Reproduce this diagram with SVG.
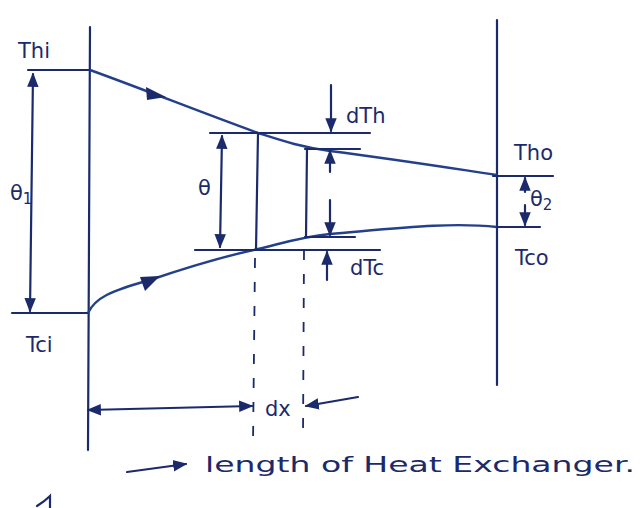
<svg xmlns="http://www.w3.org/2000/svg" width="643" height="508" viewBox="0 0 643 508">
<defs>
<marker id="ah" viewBox="0 0 10 10" refX="9" refY="5" markerWidth="6.5" markerHeight="6.5" orient="auto-start-reverse" markerUnits="strokeWidth">
<path d="M0,1 L10,5 L0,9 z" fill="#1b2a6b"/>
</marker>
<style>
.ln{stroke:#1b2a6b;stroke-width:2.2;fill:none;stroke-linecap:round}
.cv{stroke:#24408a;stroke-width:2.4;fill:none}
.ds{stroke:#1b2a6b;stroke-width:1.8;fill:none;stroke-dasharray:10 14}
.tx{font-family:"DejaVu Sans",sans-serif;fill:#1b2a6b;font-size:21px}
.fl{fill:#1b2a6b}
</style>
</defs>
<rect width="643" height="508" fill="#fff"/>
<g id="connectors">
<line class="ln" x1="90" y1="27" x2="88" y2="450"/>
<line class="ln" x1="497" y1="20" x2="497" y2="385"/>
<line class="ln" x1="28" y1="70" x2="90" y2="70"/>
<line class="ln" x1="12" y1="313" x2="88" y2="313"/>
<line class="ln" x1="33" y1="74" x2="30" y2="311" marker-start="url(#ah)" marker-end="url(#ah)"/>
<path class="cv" d="M90,70 C140,88 200,112 258,133 C280,140 300,147 330,151 C400,160 450,168 497,175"/>
<path class="fl" d="M146,87 L166,97 L147,100 z"/>
<path class="cv" d="M88,313 C95,298 110,291 150,280 C200,263 230,255 258,249 C280,244 300,237 330,234 C400,228 450,222 497,227"/>
<path class="fl" d="M140,277 L160,276 L145,291 z"/>
<line class="ln" x1="210" y1="133" x2="370" y2="133"/>
<line class="ln" x1="305" y1="149" x2="360" y2="149"/>
<line class="ln" x1="305" y1="237" x2="355" y2="237"/>
<line class="ln" x1="195" y1="250" x2="380" y2="250"/>
<line class="ln" x1="258" y1="133" x2="256" y2="250"/>
<line class="ln" x1="307" y1="149" x2="306" y2="237"/>
<line class="ds" x1="255" y1="258" x2="253" y2="445"/>
<line class="ds" x1="304" y1="250" x2="303" y2="440"/>
<line class="ln" x1="222" y1="136" x2="220" y2="247" marker-start="url(#ah)" marker-end="url(#ah)"/>
<line class="ln" x1="331" y1="85" x2="331" y2="131" marker-end="url(#ah)"/>
<line class="ln" x1="330" y1="172" x2="330" y2="151" marker-end="url(#ah)"/>
<line class="ln" x1="330" y1="200" x2="330" y2="235" marker-end="url(#ah)"/>
<line class="ln" x1="327" y1="280" x2="327" y2="252" marker-end="url(#ah)"/>
<line class="ln" x1="493" y1="176" x2="553" y2="176"/>
<line class="ln" x1="497" y1="227" x2="540" y2="227"/>
<line class="ln" x1="525" y1="192" x2="525" y2="178" marker-end="url(#ah)"/>
<line class="ln" x1="525" y1="205" x2="525" y2="225" marker-end="url(#ah)"/>
<line class="ln" x1="88" y1="410" x2="252" y2="406" marker-start="url(#ah)" marker-end="url(#ah)"/>
<line class="ln" x1="358" y1="397" x2="306" y2="406" marker-end="url(#ah)"/>
<line class="ln" x1="127" y1="472" x2="186" y2="464" marker-end="url(#ah)"/>
<path class="ln" d="M37,506 C42,503 47,499 50,496 L50,508"/>
</g>
<g id="labels">
<text class="tx" x="18" y="58">Thi</text>
<text class="tx" x="10" y="200">θ<tspan font-size="15" dy="4">1</tspan></text>
<text class="tx" x="198" y="195">θ</text>
<text class="tx" x="346" y="123">dTh</text>
<text class="tx" x="350" y="275">dTc</text>
<text class="tx" x="514" y="160">Tho</text>
<text class="tx" x="530" y="206">θ<tspan font-size="15" dy="4">2</tspan></text>
<text class="tx" x="515" y="265">Tco</text>
<text class="tx" x="26" y="352">Tci</text>
<text class="tx" x="265" y="416">dx</text>
<text class="tx" x="205" y="472" font-size="25" textLength="430" lengthAdjust="spacingAndGlyphs">length of Heat Exchanger.</text>
</g>
</svg>
